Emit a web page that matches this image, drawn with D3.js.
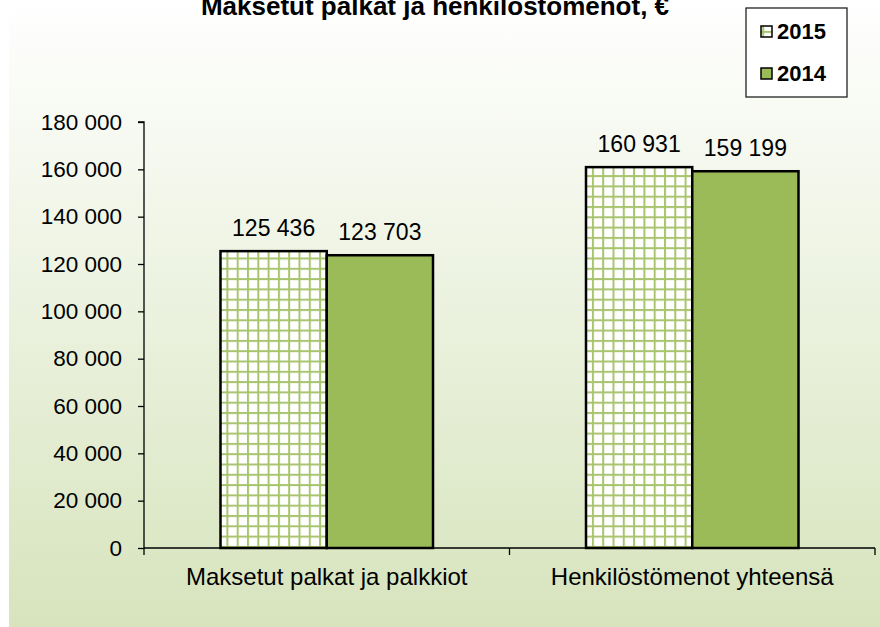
<!DOCTYPE html>
<html>
<head>
<meta charset="utf-8">
<script src="https://d3js.org/d3.v7.min.js"></script>
<style>
  body { margin:0; background:#fff; }
  text { font-family: "Liberation Sans", Arial, sans-serif; fill:#000; }
</style>
</head>
<body>
<script>
var categories = ["Maksetut palkat ja palkkiot", "Henkilöstömenot yhteensä"];
var seriesNames = ["2015", "2014"];
var values2015 = [125436, 160931];
var values2014 = [123703, 159199];
var yTicks = [0, 20000, 40000, 60000, 80000, 100000, 120000, 140000, 160000, 180000];
var title = "Maksetut palkat ja henkilöstömenot, €";

var width = 880, height = 627;
var svg = d3.select("body").append("svg")
    .attr("width", width).attr("height", height);

var defs = svg.append("defs");
var grad = defs.append("linearGradient").attr("id", "bg")
    .attr("x1", 0).attr("y1", 0).attr("x2", 0).attr("y2", 1);
grad.append("stop").attr("offset", "0%").attr("stop-color", "#ffffff");
grad.append("stop").attr("offset", "100%").attr("stop-color", "#d7e4bd");

var pat = defs.append("pattern").attr("id", "grid")
    .attr("patternUnits", "userSpaceOnUse")
    .attr("width", 10.3).attr("height", 10.3);
pat.append("rect").attr("width", 10.3).attr("height", 10.3).attr("fill", "#fff");
pat.append("rect").attr("x", 0).attr("y", 0).attr("width", 2).attr("height", 10.3).attr("fill", "#a9c46e");
pat.append("rect").attr("x", 0).attr("y", 0).attr("width", 10.3).attr("height", 2).attr("fill", "#a9c46e");

svg.append("rect").attr("x", 9).attr("y", 0).attr("width", width - 9).attr("height", height)
    .attr("fill", "url(#bg)");

var margin = {left: 144, right: 5, top: 122, bottom: 79};
var x0 = d3.scaleBand().domain(categories)
    .range([margin.left, width - margin.right]);
var x1 = d3.scaleBand().domain(seriesNames)
    .range([0, x0.bandwidth()]).paddingInner(0).paddingOuter(0.72);
var y = d3.scaleLinear().domain([0, 180000]).range([height - margin.bottom, margin.top]);

var fmt = function (v) { return d3.format(",")(v).replace(/,/g, " "); };

// bars
var data = categories.map(function (c, i) {
  return [{s: "2015", v: values2015[i], c: c}, {s: "2014", v: values2014[i], c: c}];
});
var g = svg.selectAll("g.cat").data(data).enter().append("g")
    .attr("class", "cat")
    .attr("transform", function (d, i) { return "translate(" + x0(categories[i]) + ",0)"; });
g.selectAll("rect").data(function (d) { return d; }).enter().append("rect")
    .attr("x", function (d) { return x1(d.s); })
    .attr("y", function (d) { return y(d.v); })
    .attr("width", x1.bandwidth())
    .attr("height", function (d) { return y(0) - y(d.v); })
    .attr("fill", function (d) { return d.s === "2015" ? "url(#grid)" : "#9bbb59"; })
    .attr("stroke", "#000").attr("stroke-width", 2.5);
g.selectAll("text.lbl").data(function (d) { return d; }).enter().append("text")
    .attr("class", "lbl")
    .attr("x", function (d) { return x1(d.s) + x1.bandwidth() / 2; })
    .attr("y", function (d) { return y(d.v) - 15; })
    .attr("text-anchor", "middle")
    .style("font-size", "23px")
    .text(function (d) { return fmt(d.v); });

// y axis
var yAxis = d3.axisLeft(y).tickValues(yTicks).tickSize(6).tickPadding(16).tickFormat(fmt);
var ya = svg.append("g").attr("transform", "translate(" + margin.left + ",0)").call(yAxis);
ya.select(".domain").attr("stroke", "#000").attr("stroke-width", 1.3).attr("d", "M-6," + y(180000) + "H0V" + y(0));
ya.selectAll("text").style("font-size", "22.5px").attr("font-family", null);
ya.selectAll("line").attr("stroke-width", 1.3);

// x axis
var xa = svg.append("g").attr("transform", "translate(0," + y(0) + ")");
xa.append("line").attr("x1", margin.left).attr("x2", width - margin.right)
    .attr("stroke", "#000").attr("stroke-width", 1.3);
var edges = [margin.left].concat(categories.map(function (c) { return x0(c) + x0.bandwidth(); }));
xa.selectAll("line.tk").data(edges).enter().append("line").attr("class", "tk")
    .attr("x1", function (d) { return d; }).attr("x2", function (d) { return d; })
    .attr("y1", 0).attr("y2", 7).attr("stroke", "#000").attr("stroke-width", 1.3);
xa.selectAll("text").data(categories).enter().append("text")
    .attr("x", function (d) { return x0(d) + x0.bandwidth() / 2; })
    .attr("y", 37).attr("text-anchor", "middle")
    .style("font-size", "24px")
    .text(function (d) { return d; });

// title
svg.append("text").attr("x", 435).attr("y", 15).attr("text-anchor", "middle")
    .style("font-size", "26px").style("font-weight", "bold").text(title);

// legend
var lg = svg.append("g");
lg.append("rect").attr("x", 746).attr("y", 8).attr("width", 101).attr("height", 89)
    .attr("fill", "#fff").attr("stroke", "#222").attr("stroke-width", 1.3);
seriesNames.forEach(function (s, i) {
  var yy = 26 + i * 42;
  lg.append("rect").attr("x", 761).attr("y", yy).attr("width", 11).attr("height", 11)
      .attr("fill", s === "2015" ? "url(#grid)" : "#9bbb59")
      .attr("stroke", "#000").attr("stroke-width", 1.5);
  lg.append("text").attr("x", 777).attr("y", yy + 12.5)
      .style("font-size", "22px").style("font-weight", "bold").text(s);
});
</script>
</body>
</html>
